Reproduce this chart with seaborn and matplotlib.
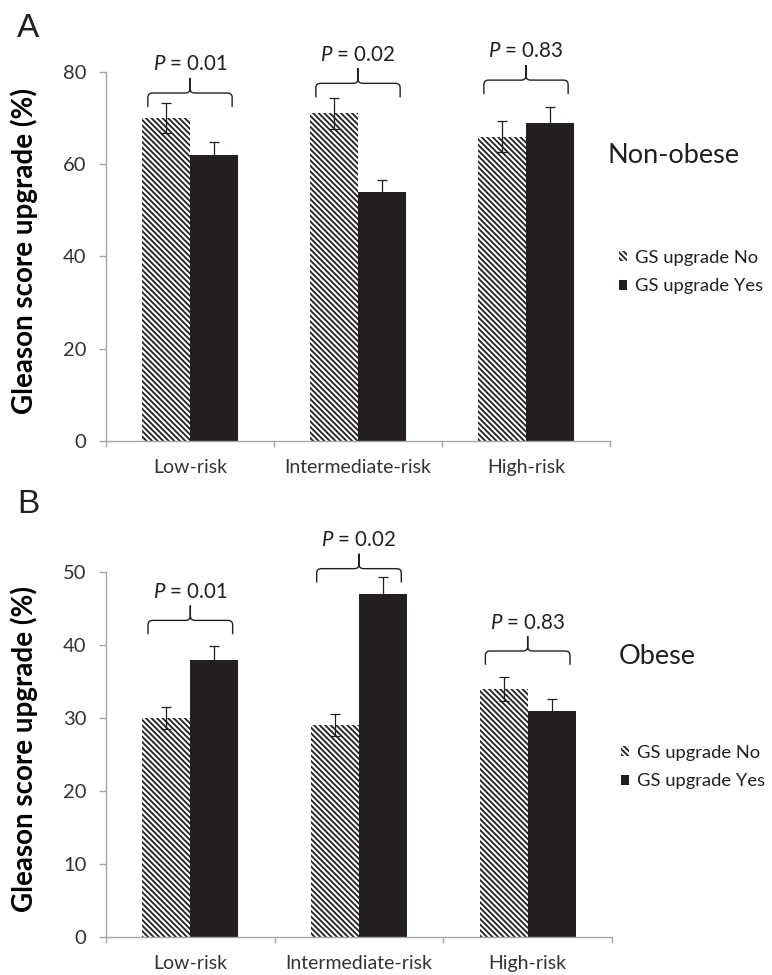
import matplotlib
matplotlib.use('Agg')
import matplotlib.pyplot as plt
import matplotlib.patches as mpatches
from matplotlib.path import Path
import pandas as pd
import seaborn as sns

risk_groups = ['Low-risk', 'Intermediate-risk', 'High-risk']
upgrade_levels = ['GS upgrade No', 'GS upgrade Yes']
p_values = ['0.01', '0.02', '0.83']

# panel A: non-obese
nonobese_no = [70, 71, 66]
nonobese_yes = [62, 54, 69]
nonobese_no_err = [3.3, 3.4, 3.3]
nonobese_yes_err = [2.9, 2.5, 3.3]

# panel B: obese
obese_no = [30, 29, 34]
obese_yes = [38, 47, 31]
obese_no_err = [1.5, 1.5, 1.7]
obese_yes_err = [1.9, 2.3, 1.6]

# where the p-value braces start (data units)
nonobese_brace = [72.4, 74.5, 75.2]
obese_brace = [41.5, 48.6, 37.3]

DARK = '#231F20'
AXIS_GREY = '#A6A6A6'
HATCH = '\\' * 6
W, H = 772, 975

sns.set_theme(style='ticks')
plt.rcParams['font.family'] = ['Lato', 'DejaVu Sans']
plt.rcParams['mathtext.fontset'] = 'custom'
plt.rcParams['mathtext.it'] = 'Lato:italic'
plt.rcParams['mathtext.rm'] = 'Lato'
plt.rcParams['hatch.linewidth'] = 1.3


def draw_brace(ax, xc, half, y0, drop, rise, rx, ry):
    codes = []
    verts = []
    for side in (-1, 1):
        x0 = xc + side * half
        verts += [(x0, y0), (x0, y0 + drop - ry), (x0, y0 + drop), (x0 - side * rx, y0 + drop),
                  (xc + side * rx, y0 + drop), (xc, y0 + drop), (xc, y0 + drop + ry), (xc, y0 + drop + rise)]
        codes += [Path.MOVETO, Path.LINETO, Path.CURVE3, Path.CURVE3,
                  Path.LINETO, Path.CURVE3, Path.CURVE3, Path.LINETO]
    patch = mpatches.PathPatch(Path(verts, codes), facecolor='none', edgecolor=DARK,
                               linewidth=1.0, clip_on=False)
    ax.add_patch(patch)


def panel(ax, no, yes, no_err, yes_err, ymax, step, brace_y):
    df = pd.DataFrame({'risk': risk_groups * 2,
                       'group': [upgrade_levels[0]] * 3 + [upgrade_levels[1]] * 3,
                       'pct': no + yes})
    sns.barplot(data=df, x='risk', y='pct', hue='group', order=risk_groups,
                hue_order=upgrade_levels, palette=['white', DARK], saturation=1,
                width=0.57, errorbar=None, legend=False, linewidth=0, ax=ax)
    for bar in ax.containers[0]:
        bar.set_hatch(HATCH)
        bar.set_edgecolor(DARK)
        bar.set_linewidth(0)

    for cont, errs in zip(ax.containers, [no_err, yes_err]):
        xs = [b.get_x() + b.get_width() / 2 for b in cont]
        ys = [b.get_height() for b in cont]
        ax.errorbar(xs, ys, yerr=errs, fmt='none', ecolor=DARK, elinewidth=0.9,
                    capsize=3.5, capthick=0.9, zorder=3)

    bw = ax.containers[0][0].get_width()
    for i, (y0, p) in enumerate(zip(brace_y, p_values)):
        draw_brace(ax, i, 0.88 * bw, y0, 0.038 * ymax, 0.041 * ymax, 0.1 * bw, 0.012 * ymax)
        ax.text(i, y0 + 0.079 * ymax + 0.037 * ymax, '$P$ = ' + p, ha='center', va='center',
                fontsize=14.8, color=DARK, clip_on=False)

    ax.set_ylim(0, ymax)
    ax.set_yticks(range(0, ymax + 1, step))
    ax.set_xlim(-0.5, 2.5)
    ax.set_xticks([-0.5, 0.5, 1.5, 2.5], minor=True)
    ax.set_xlabel('')
    ax.set_ylabel('Gleason score upgrade (%)', fontsize=20, fontweight='bold', color='black')
    ax.yaxis.set_label_coords(-0.135, 0.515)
    ax.tick_params(axis='x', which='major', length=0, pad=13, labelsize=14, labelcolor='#333333')
    ax.tick_params(axis='x', which='minor', length=4.5, width=1, color=AXIS_GREY)
    ax.tick_params(axis='y', length=5, width=1, color=AXIS_GREY, pad=9, labelsize=14.5,
                   labelcolor='#333333')
    for s in ('top', 'right'):
        ax.spines[s].set_visible(False)
    for s in ('left', 'bottom'):
        ax.spines[s].set_color(AXIS_GREY)
        ax.spines[s].set_linewidth(1)


fig = plt.figure(figsize=(W / 100, H / 100), dpi=100)
ax_a = fig.add_axes([106 / W, 1 - 440.7 / H, 504 / W, 368.7 / H])
ax_b = fig.add_axes([106 / W, 1 - 936.7 / H, 506 / W, 364.4 / H])

panel(ax_a, nonobese_no, nonobese_yes, nonobese_no_err, nonobese_yes_err, 80, 20, nonobese_brace)
panel(ax_b, obese_no, obese_yes, obese_no_err, obese_yes_err, 50, 10, obese_brace)

fig.text(17 / W, 1 - 37 / H, 'A', fontsize=24, family='Liberation Sans', va='baseline', color=DARK)
fig.text(17 / W, 1 - 513 / H, 'B', fontsize=24, family='Liberation Sans', va='baseline', color=DARK)
fig.text(607 / W, 1 - 163 / H, 'Non-obese', fontsize=19.5, va='baseline', color=DARK)
fig.text(619 / W, 1 - 664 / H, 'Obese', fontsize=19.5, va='baseline', color=DARK)

handles = [mpatches.Patch(facecolor='white', edgecolor=DARK, hatch=HATCH, linewidth=0),
           mpatches.Patch(facecolor=DARK, linewidth=0)]
for x, y in ((619, 272), (621, 767)):
    fig.legend(handles, upgrade_levels, loc='center left', bbox_to_anchor=(x / W, 1 - y / H),
               frameon=False, fontsize=13.2, handlelength=0.45, handleheight=0.45,
               handletextpad=0.4, labelspacing=0.7, borderpad=0, borderaxespad=0,
               labelcolor=DARK)

fig.savefig('out.png', dpi=100)
